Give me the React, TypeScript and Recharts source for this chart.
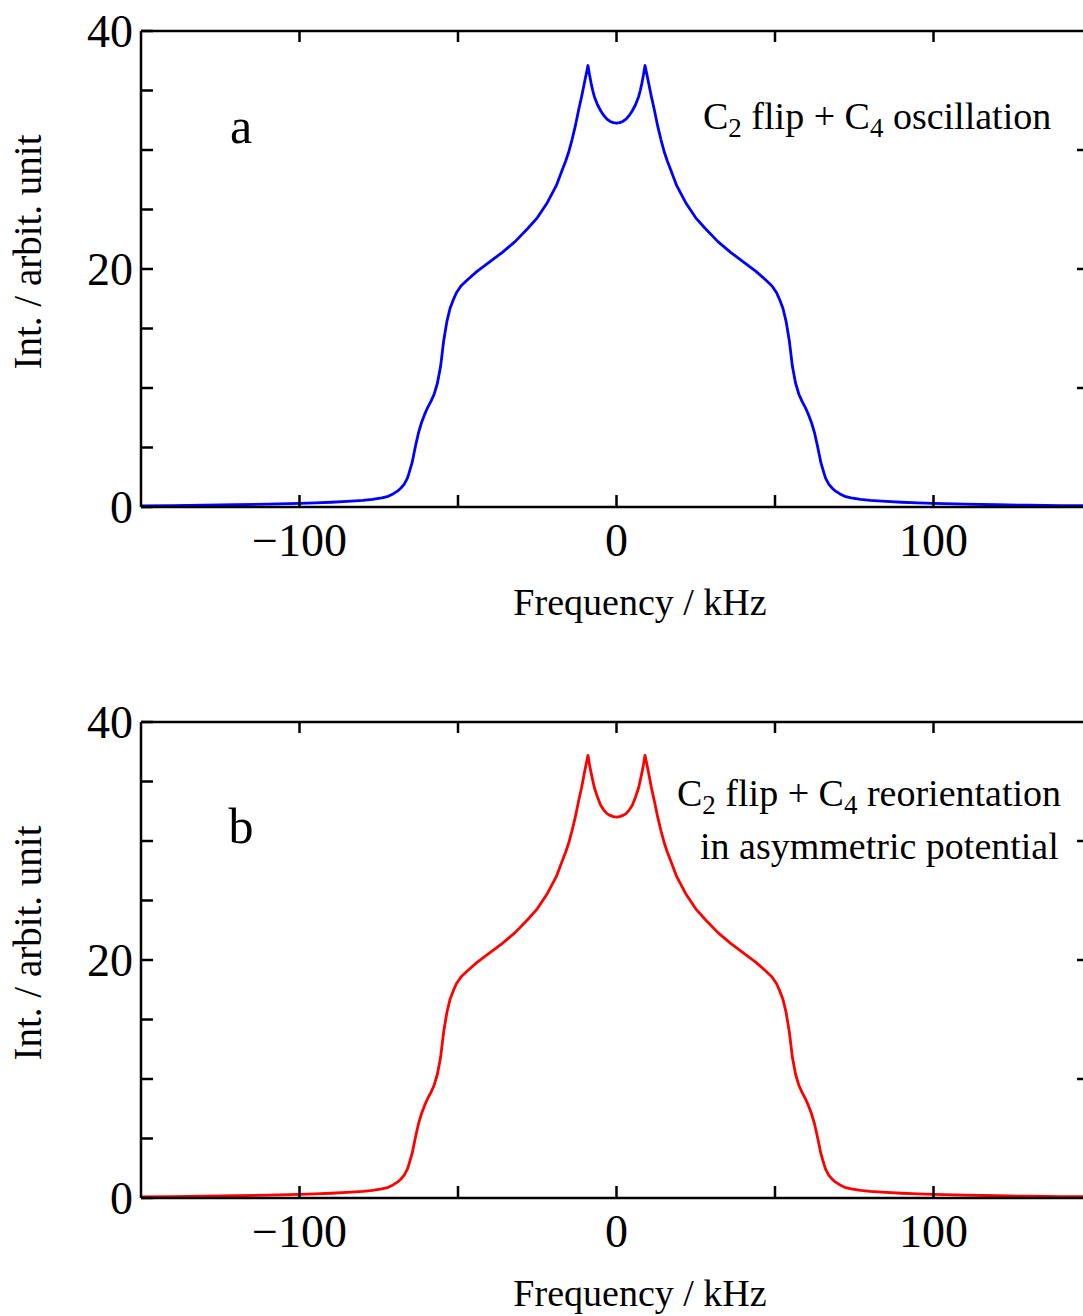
import React from 'react';
import { LineChart, Line, XAxis, YAxis } from 'recharts';

// Frequency grid (kHz) and simulated line shapes for the two motion models
const freq = [
  -150, -140, -130, -120, -110,
  -100, -95, -90, -85, -80,
  -77, -74, -72, -70.5, -69,
  -68, -67, -66, -65.5, -64.5,
  -63.5, -62.5, -61.5, -60.5, -59.5,
  -58.5, -57.5, -56.5, -55.5, -54.5,
  -53.5, -52.5, -51.5, -50.5, -49,
  -47, -44, -40, -36, -32,
  -28, -25, -22, -19, -17,
  -16, -15, -14, -13, -12,
  -11, -10, -9, -8.5, -8,
  -7.5, -7, -6, -5, -4,
  -3, -2, -1,
  0,
  1, 2, 3,
  4, 5, 6, 7, 7.5,
  8, 8.5, 9, 10, 11,
  12, 13, 14, 15, 16,
  17, 19, 22, 25, 28,
  32, 36, 40, 44, 47,
  49, 50.5, 51.5, 52.5, 53.5,
  54.5, 55.5, 56.5, 57.5, 58.5,
  59.5, 60.5, 61.5, 62.5, 63.5,
  64.5, 65.5, 66, 67, 68,
  69, 70.5, 72, 74, 77,
  80, 85, 90, 95, 100,
  110, 120, 130, 140, 150,
];

const intensityA = [
  0.1, 0.12, 0.15, 0.19, 0.24,
  0.3, 0.34, 0.4, 0.47, 0.56,
  0.64, 0.76, 0.9, 1.1, 1.35,
  1.6, 1.9, 2.4, 2.8, 3.7,
  5.0, 6.2, 7.1, 7.8, 8.4,
  8.9, 9.5, 10.4, 11.8, 14.0,
  15.6, 16.7, 17.4, 18.0, 18.6,
  19.1, 19.8, 20.6, 21.4, 22.3,
  23.4, 24.3, 25.5, 27.0, 28.4,
  29.1, 29.9, 30.9, 32.0, 33.3,
  34.5, 35.8, 37.1, 36.3, 35.6,
  35.0, 34.5, 33.8, 33.3, 32.9,
  32.6, 32.4, 32.3,
  32.25,
  32.3, 32.4, 32.6,
  32.9, 33.3, 33.8, 34.5, 35.0,
  35.6, 36.3, 37.1, 35.8, 34.5,
  33.3, 32.0, 30.9, 29.9, 29.1,
  28.4, 27.0, 25.5, 24.3, 23.4,
  22.3, 21.4, 20.6, 19.8, 19.1,
  18.6, 18.0, 17.4, 16.7, 15.6,
  14.0, 11.8, 10.4, 9.5, 8.9,
  8.4, 7.8, 7.1, 6.2, 5.0,
  3.7, 2.8, 2.4, 1.9, 1.6,
  1.35, 1.1, 0.9, 0.76, 0.64,
  0.56, 0.47, 0.4, 0.34, 0.3,
  0.24, 0.19, 0.15, 0.12, 0.1,
];

const intensityB = [
  0.1, 0.12, 0.15, 0.19, 0.24,
  0.3, 0.34, 0.4, 0.47, 0.56,
  0.64, 0.76, 0.9, 1.1, 1.35,
  1.6, 1.9, 2.4, 2.8, 3.7,
  5.0, 6.2, 7.1, 7.8, 8.4,
  8.9, 9.5, 10.4, 11.8, 14.0,
  15.6, 16.7, 17.4, 18.0, 18.6,
  19.1, 19.8, 20.6, 21.4, 22.3,
  23.4, 24.3, 25.5, 27.0, 28.4,
  29.1, 29.9, 30.9, 32.0, 33.3,
  34.5, 35.9, 37.2, 36.4, 35.7,
  35.1, 34.5, 33.7, 33.0, 32.6,
  32.3, 32.15, 32.05,
  32.0,
  32.05, 32.15, 32.3,
  32.6, 33.0, 33.7, 34.5, 35.1,
  35.7, 36.4, 37.2, 35.9, 34.5,
  33.3, 32.0, 30.9, 29.9, 29.1,
  28.4, 27.0, 25.5, 24.3, 23.4,
  22.3, 21.4, 20.6, 19.8, 19.1,
  18.6, 18.0, 17.4, 16.7, 15.6,
  14.0, 11.8, 10.4, 9.5, 8.9,
  8.4, 7.8, 7.1, 6.2, 5.0,
  3.7, 2.8, 2.4, 1.9, 1.6,
  1.35, 1.1, 0.9, 0.76, 0.64,
  0.56, 0.47, 0.4, 0.34, 0.3,
  0.24, 0.19, 0.15, 0.12, 0.1,
];

const xTicks = [-100, -50, 0, 50, 100];
const xLabels = [-100, 0, 100];
const yTicks = [0, 5, 10, 15, 20, 25, 30, 35, 40];
const yLabels = [0, 20, 40];
const rightTicks = [10, 20, 30];

const FONT = '"Liberation Serif", "Times New Roman", serif';
const INK = '#000';
const AXIS_W = 2.5;

const fmt = (v: number) => (v < 0 ? '\u2212' + Math.abs(v) : String(v));

const BottomTick = ({ x, y, payload }: any) => (
  <g>
    <line x1={x} y1={y} x2={x} y2={y - 12} stroke={INK} strokeWidth={AXIS_W} />
    {xLabels.includes(payload.value) && (
      <text x={x} y={y + 49} textAnchor="middle" fontFamily={FONT} fontSize={46} fill={INK}>
        {fmt(payload.value)}
      </text>
    )}
  </g>
);

const TopTick = ({ x, y }: any) => (
  <line x1={x} y1={y} x2={x} y2={y + 11} stroke={INK} strokeWidth={AXIS_W} />
);

const LeftTick = ({ x, y, payload }: any) => (
  <g>
    <line x1={x} y1={y} x2={x + 12} y2={y} stroke={INK} strokeWidth={AXIS_W} />
    {yLabels.includes(payload.value) && (
      <text x={x - 8} y={y + 16} textAnchor="end" fontFamily={FONT} fontSize={46} fill={INK}>
        {payload.value}
      </text>
    )}
  </g>
);

const RightTick = ({ x, y }: any) => (
  <line x1={x} y1={y} x2={x - 15} y2={y} stroke={INK} strokeWidth={AXIS_W} />
);

const axisLine = { stroke: INK, strokeWidth: AXIS_W };

function Spectrum({ values, color }: { values: number[]; color: string }) {
  const data = freq.map((f, i) => ({ f, v: values[i] }));
  return (
    <LineChart width={1110} height={640} data={data} margin={{ top: 30, right: 17, bottom: 73, left: 0 }}>
      <XAxis dataKey="f" type="number" domain={[-150, 150]} ticks={xTicks} interval={0}
        tickSize={0} tickMargin={0} tick={(p: any) => <BottomTick {...p} />} axisLine={axisLine}
        height={60} allowDataOverflow />
      <XAxis xAxisId="top" orientation="top" dataKey="f" type="number" domain={[-150, 150]}
        ticks={xTicks} interval={0} tickSize={0} tickMargin={0} tick={(p: any) => <TopTick {...p} />}
        axisLine={axisLine} height={1} allowDataOverflow />
      <YAxis type="number" domain={[0, 40]} ticks={yTicks} interval={0} tickSize={0} tickMargin={0}
        tick={(p: any) => <LeftTick {...p} />} axisLine={axisLine} width={141} allowDataOverflow />
      <YAxis yAxisId="right" orientation="right" type="number" domain={[0, 40]} ticks={rightTicks}
        interval={0} tickSize={0} tickMargin={0} tick={(p: any) => <RightTick {...p} />}
        axisLine={axisLine} width={1} allowDataOverflow />
      <Line type="linear" dataKey="v" stroke={color} strokeWidth={2.8} strokeLinejoin="round"
        dot={false} isAnimationActive={false} />
    </LineChart>
  );
}

const titleStyle = { fontFamily: FONT, fill: INK };

export default function App() {
  return (
    <div style={{ position: 'fixed', left: 0, top: 0, width: 1083, height: 1316, overflow: 'hidden', background: '#fff' }}>
      <div style={{ position: 'absolute', left: 0, top: 0 }}>
        <Spectrum values={intensityA} color="#0000ff" />
      </div>
      <div style={{ position: 'absolute', left: 0, top: 691 }}>
        <Spectrum values={intensityB} color="#ff0000" />
      </div>
      <svg width={1083} height={1316} style={{ position: 'absolute', left: 0, top: 0, pointerEvents: 'none' }}>
        {/* panel a */}
        <text {...titleStyle} fontSize={39} textAnchor="middle" transform="translate(41 252) rotate(-90)">
          Int. / arbit. unit
        </text>
        <text {...titleStyle} fontSize={38} textAnchor="middle" x={640} y={615}>Frequency / kHz</text>
        <text {...titleStyle} fontSize={50} textAnchor="middle" x={241} y={143}>a</text>
        <text {...titleStyle} fontSize={38} x={703} y={129}>
          C<tspan fontSize={27} dy={8}>2</tspan>
          <tspan dy={-8}> flip + C</tspan>
          <tspan fontSize={27} dy={8}>4</tspan>
          <tspan dy={-8}> oscillation</tspan>
        </text>

        {/* panel b */}
        <text {...titleStyle} fontSize={39} textAnchor="middle" transform="translate(41 943) rotate(-90)">
          Int. / arbit. unit
        </text>
        <text {...titleStyle} fontSize={38} textAnchor="middle" x={640} y={1306}>Frequency / kHz</text>
        <text {...titleStyle} fontSize={50} textAnchor="middle" x={241} y={843}>b</text>
        <text {...titleStyle} fontSize={38} x={677} y={806}>
          C<tspan fontSize={27} dy={8}>2</tspan>
          <tspan dy={-8}> flip + C</tspan>
          <tspan fontSize={27} dy={8}>4</tspan>
          <tspan dy={-8}> reorientation</tspan>
        </text>
        <text {...titleStyle} fontSize={38} x={700} y={859}>in asymmetric potential</text>
      </svg>
    </div>
  );
}
